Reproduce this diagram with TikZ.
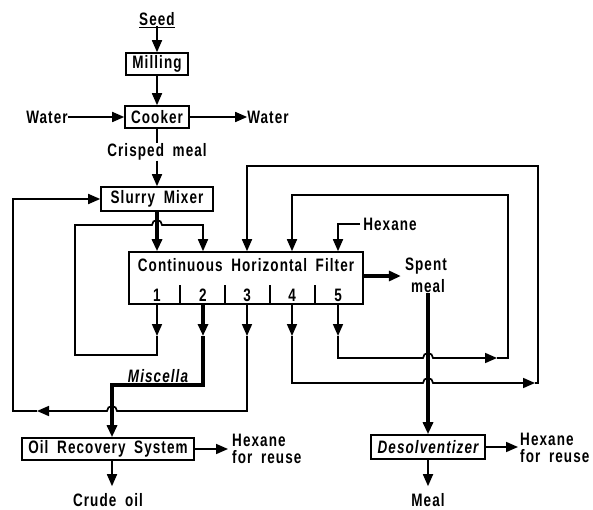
\documentclass[tikz,border=0pt]{standalone}
\usepackage{fontspec}
\newfontfamily\labfont[FakeStretch=0.75,LetterSpace=6,WordSpace=1.8]{Liberation Sans}
\usetikzlibrary{arrows.meta}
\begin{document}
\begin{tikzpicture}[x=1pt,y=1pt,
  lbl/.style={font=\labfont\bfseries\fontsize{18}{15}\selectfont, inner sep=0pt},
  box/.style={draw, line width=1.6pt, inner sep=0pt, lbl},
  ln/.style={line width=1.7pt},
  thk/.style={line width=3.2pt},
  arr/.style={-{Triangle[length=12pt,width=10pt]}}]
\useasboundingbox (0,0) rectangle (593,-510);
% nodes
\node[lbl] (seed) at (157,-19) {Seed};
\draw[line width=1.2pt] ([yshift=-2pt]seed.south west) -- ([yshift=-2pt]seed.south east);
\node[box, minimum width=62, minimum height=22] (mill) at (157,-64) {Milling};
\node[box, minimum width=64, minimum height=22] (cook) at (157,-117) {Cooker};
\node[lbl] (wl) at (47,-117) {Water};
\node[lbl] (wr) at (268,-117) {Water};
\node[lbl] (crisp) at (157,-152) {Crisped meal};
\node[box, minimum width=112, minimum height=24] (slurry) at (157,-199) {Slurry Mixer};
\node[draw, line width=1.6pt, minimum width=234, minimum height=52, inner sep=0pt] (filter) at (246,-278) {};
\node[lbl] (ftitle) at (246,-265) {Continuous Horizontal Filter};
\node[lbl] (n1) at (157,-295) {1};
\node[lbl] (n2) at (203,-295) {2};
\node[lbl] (n3) at (247,-295) {3};
\node[lbl] (n4) at (292,-295) {4};
\node[lbl] (n5) at (338,-295) {5};
\foreach \dx in {180,225,270,315} \draw[ln] (\dx,-285) -- (\dx,-304);
\node[lbl] (hexin) at (390,-224) {Hexane};
\node[lbl] (spent) at (426,-266) {Spent};
\node[lbl] (spent2) at (428,-286) {meal};
\node[lbl] (misc) at (158,-376) {\itshape Miscella};
\node[box, minimum width=172, minimum height=22] (oil) at (108,-449) {Oil Recovery System};
\node[box, minimum width=114, minimum height=24] (desol) at (428,-447) {\itshape Desolventizer};
\node[lbl, anchor=west] (hx1) at (232,-440) {Hexane};
\node[lbl, anchor=west] (hx1b) at (232,-457) {for reuse};
\node[lbl, anchor=west] (hx2) at (520,-439) {Hexane};
\node[lbl, anchor=west] (hx2b) at (520,-456) {for reuse};
\node[lbl] (crude) at (108,-500) {Crude oil};
\node[lbl] (meal) at (428,-500) {Meal};
% coordinates
\coordinate (t1) at (157,-336);
\coordinate (t2) at (203,-336);
\coordinate (t3) at (247,-336);
\coordinate (t4) at (292,-336);
\coordinate (t5) at (338,-336);
\coordinate (m2) at (112,-385);
% main line
\draw[ln,arr] (seed.south) -- (seed.south |- mill.north);
\draw[ln,arr] (mill) -- (cook);
\draw[ln,arr] (wl) -- (cook);
\draw[ln,arr] (cook) -- (wr);
\draw[ln] (cook.south) -- (crisp.north);
\draw[ln,arr] (crisp.south) -- (slurry.north);
\draw[thk,arr] (slurry.south) -- (slurry.south |- filter.north);
% stage 1 recycle
\draw[ln,arr] (n1 |- filter.south) -- (t1);
\draw[ln,arr] (t1) -- (157,-355) -- (75,-355) -- (75,-225) -- (152,-225)
  arc[start angle=180,end angle=0,radius=5] -- (203,-225) -- (n2 |- filter.north);
% stage 2 miscella
\draw[thk,arr] (n2 |- filter.south) -- (t2);
\draw[thk,arr] (t2) -- (203,-385) -- (m2) -- (m2 |- oil.north);
% stage 3 to slurry mixer
\draw[ln,arr] (n3 |- filter.south) -- (t3);
\draw[ln,arr] (t3) -- (247,-411) -- (117,-411)
  arc[start angle=0,end angle=180,radius=5] -- (37,-411);
\draw[ln,arr] (37,-411) -- (13,-411) -- (13,-199) -- (slurry.west);
% stage 4 to stage 3
\draw[ln,arr] (n4 |- filter.south) -- (t4);
\draw[ln,arr] (t4) -- (292,-383) -- (423,-383)
  arc[start angle=180,end angle=0,radius=5] -- (535,-383);
\draw[ln,arr] (535,-383) -- (538,-383) -- (538,-166) -- (247,-166) -- (n3 |- filter.north);
% stage 5 to stage 4
\draw[ln,arr] (n5 |- filter.south) -- (t5);
\draw[ln,arr] (t5) -- (338,-358) -- (423,-358)
  arc[start angle=180,end angle=0,radius=5] -- (497,-358);
\draw[ln,arr] (497,-358) -- (508,-358) -- (508,-195) -- (292,-195) -- (n4 |- filter.north);
% hexane in
\draw[ln,arr] ([xshift=-3pt]hexin.west) -- (n5 |- hexin.west) -- (n5 |- filter.north);
% spent meal
\draw[thk,arr] (filter.east |- 0,-276) -- ([xshift=-4pt]spent.west |- 0,-276);
\draw[thk,arr] (spent2.south) -- (spent2.south |- desol.north);
% outputs
\draw[ln,arr] (desol.east) -- ([xshift=-2pt]desol.east -| hx2.west);
\draw[ln,arr,shorten >=7pt] (desol.south) -- (meal.north);
\draw[ln,arr] (oil.east) -- ([xshift=-4pt]oil.east -| hx1.west);
\draw[ln,arr,shorten >=7pt] (m2 |- oil.south) -- (m2 |- crude.north);
\end{tikzpicture}
\end{document}
